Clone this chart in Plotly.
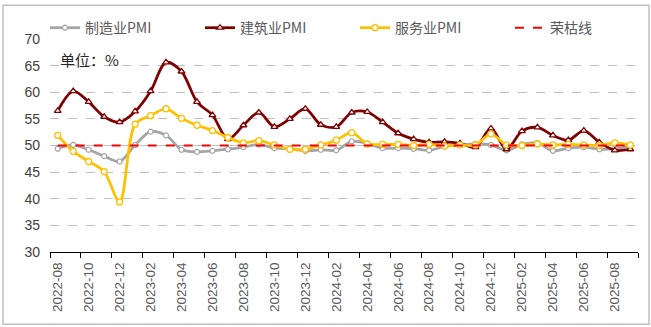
import plotly.graph_objects as go

months = ["2022-08","2022-09","2022-10","2022-11","2022-12",
          "2023-01","2023-02","2023-03","2023-04","2023-05","2023-06","2023-07","2023-08","2023-09","2023-10","2023-11","2023-12",
          "2024-01","2024-02","2024-03","2024-04","2024-05","2024-06","2024-07","2024-08","2024-09","2024-10","2024-11","2024-12",
          "2025-01","2025-02","2025-03","2025-04","2025-05","2025-06","2025-07","2025-08","2025-09"]

manufacturing = [49.4,50.1,49.2,48.0,47.0,
                 50.1,52.6,51.9,49.2,48.8,49.0,49.3,49.7,50.2,49.5,49.4,49.0,
                 49.2,49.1,50.8,50.4,49.5,49.5,49.4,49.1,49.8,50.1,50.3,50.1,
                 49.1,50.2,50.5,49.0,49.5,49.7,49.3,49.4,49.8]

construction = [56.5,60.2,58.2,55.4,54.4,
                56.4,60.2,65.6,63.9,58.2,55.7,51.2,53.8,56.2,53.5,55.0,56.9,
                53.9,53.5,56.2,56.3,54.4,52.3,51.2,50.6,50.7,50.4,49.7,53.2,
                49.3,52.7,53.4,51.9,51.0,52.8,50.6,49.1,49.3]

services = [51.9,48.9,47.0,45.1,39.4,
            54.0,55.6,56.9,55.1,53.8,52.8,51.5,50.5,50.9,50.1,49.3,49.3,
            50.1,51.0,52.4,50.3,50.2,50.2,50.0,50.2,49.9,50.1,50.1,52.2,
            50.1,50.0,50.3,50.1,50.2,50.1,50.0,50.5,50.1]

boom_bust = [50.0] * len(months)

names = ["制造业PMI", "建筑业PMI", "服务业PMI", "荣枯线"]

W, H = 651, 327
L, R, T, B = 50, 13, 37, 75
pw, ph = W - L - R, H - T - B

fig = go.Figure()
fig.add_trace(go.Scatter(x=months, y=manufacturing, name=names[0], mode="lines+markers", legend="legend",
                         line=dict(color="#A5A5A5", width=2.75, shape="spline", smoothing=0.9),
                         marker=dict(symbol="circle", size=5, color="white", line=dict(color="#A5A5A5", width=1.2))))
fig.add_trace(go.Scatter(x=months, y=construction, name=names[1], mode="lines+markers", legend="legend2",
                         line=dict(color="#7F0000", width=2.75, shape="spline", smoothing=0.9),
                         marker=dict(symbol="triangle-up", size=6, color="white", line=dict(color="#7F0000", width=1.3))))
fig.add_trace(go.Scatter(x=months, y=services, name=names[2], mode="lines+markers", legend="legend3",
                         line=dict(color="#FFC000", width=2.75, shape="spline", smoothing=0.9),
                         marker=dict(symbol="circle", size=6, color="white", line=dict(color="#FFC000", width=1.3))))
fig.add_trace(go.Scatter(x=months, y=boom_bust, name=names[3], mode="lines", legend="legend4",
                         line=dict(color="#FF0000", width=2, dash="dash")))

leg_y = 1 + (T - 26) / ph
def leg(px):
    return dict(orientation="h", x=(px - L) / pw, xanchor="left", y=leg_y, yanchor="middle",
                font=dict(size=14, color="#595959", family="Noto Sans CJK SC, Liberation Sans"),
                bgcolor="rgba(0,0,0,0)", itemwidth=30)

fig.update_layout(
    width=W, height=H,
    margin=dict(l=L, r=R, t=T, b=B),
    paper_bgcolor="white", plot_bgcolor="white",
    font=dict(family="Liberation Sans, Arial, Noto Sans CJK SC", color="#595959"),
    legend=leg(45), legend2=leg(200), legend3=leg(355), legend4=leg(510),
    showlegend=True,
)
fig.update_xaxes(type="category", range=[-0.5, len(months) - 0.5], dtick=2, tickson="boundaries",
                 ticks="outside", ticklen=5, tickcolor="black", tickwidth=1,
                 showline=True, linecolor="black", linewidth=1, showgrid=False,
                 tickangle=-90, ticklabelstandoff=4,
                 tickfont=dict(size=13.5, color="#595959", family="Liberation Sans, Arial"))
fig.update_yaxes(range=[30, 70], dtick=5, showgrid=True, gridcolor="#BFBFBF", griddash="dash", gridwidth=1,
                 zeroline=False, showline=False, ticks="", ticklabelstandoff=9,
                 tickfont=dict(size=14, color="#404040", family="Liberation Sans, Arial"))

fig.add_annotation(text="单位：%", xref="paper", yref="paper", x=(58 - L) / pw, y=1 - (58 - T) / ph,
                   xanchor="left", yanchor="middle", showarrow=False,
                   font=dict(size=15, color="#262626", family="Noto Sans CJK SC"))

# outer border
fig.add_shape(type="rect", xref="paper", yref="paper",
              x0=(3 - L) / pw, x1=(649 - L) / pw, y0=-(325 - (H - B)) / ph, y1=1 + (T - 3) / ph,
              line=dict(color="#C0C0C0", width=1.5), fillcolor="rgba(0,0,0,0)", layer="below")

fig.write_html("out.html")
